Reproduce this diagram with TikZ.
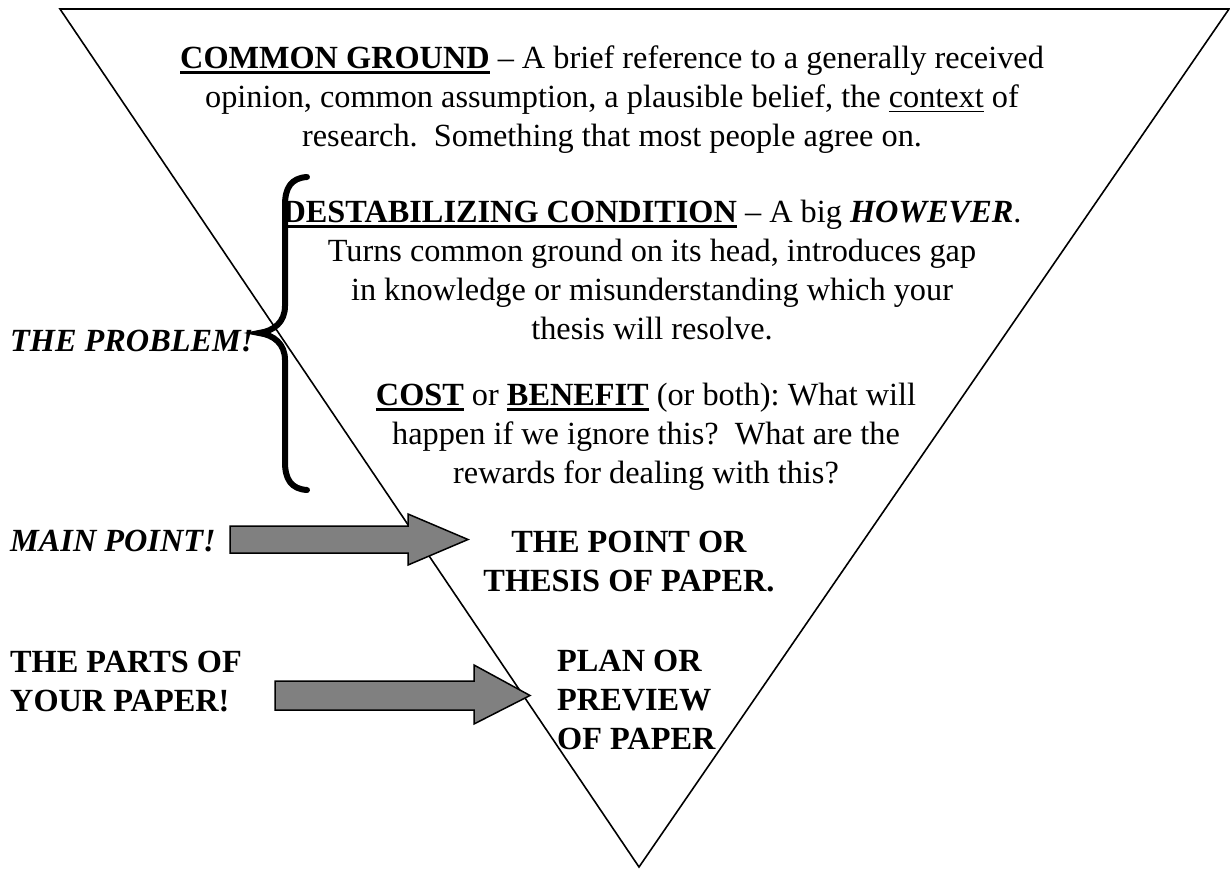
\documentclass[tikz,border=0pt]{standalone}
\usepackage{fontspec}
\setmainfont{Liberation Serif}
\frenchspacing
\newcommand{\ulb}[1]{\setbox0\hbox{#1}\rlap{\rule[-6pt]{\wd0}{3pt}}\box0\relax}
\newcommand{\ult}[1]{\setbox0\hbox{#1}\rlap{\rule[-5pt]{\wd0}{1.5pt}}\box0\relax}
\newcommand{\firststrut}{\rule{0pt}{25pt}}
\begin{document}
\begin{tikzpicture}[x=1pt,y=-1pt,
  txt/.style={inner sep=0pt, font=\fontsize{32.3}{39}\selectfont, align=center},
  btxt/.style={txt, font=\fontsize{32.3}{39}\selectfont\bfseries},
  bitxt/.style={txt, font=\fontsize{32.3}{39}\selectfont\bfseries\itshape},
  tri/.style={draw=black, line width=1.6pt, line join=miter},
  bigarrow/.style={draw=black, line width=1.5pt, fill=gray, line join=miter},
  bracestyle/.style={draw=black, line width=6pt, line cap=round}]
\useasboundingbox (0,0) rectangle (1230,869);
% triangle
\draw[tri] (60,9) -- (1229,9) -- (639,867) -- cycle;
% text blocks
\node[txt, anchor=north] (cg) at (612,43) {\firststrut\ulb{\textbf{COMMON GROUND}} – A brief reference to a generally received\\ opinion, common assumption, a plausible belief, the \ult{context} of\\ research.\ \ Something that most people agree on.};
\node[txt, anchor=north] (dc) at (652,197) {\firststrut\ulb{\textbf{DESTABILIZING CONDITION}} – A big \textbf{\textit{HOWEVER}}.\\ Turns common ground on its head, introduces gap\\ in knowledge or misunderstanding which your\\ thesis will resolve.};
\node[txt, anchor=north] (cb) at (646,380) {\firststrut\ulb{\textbf{COST}} or \ulb{\textbf{BENEFIT}} (or both): What will\\ happen if we ignore this?\ \ What are the\\ rewards for dealing with this?};
\node[btxt, anchor=north] (pt) at (629,527) {\firststrut THE POINT OR\\ THESIS OF PAPER.};
\node[btxt, align=left, anchor=north west] (pl) at (557,646) {\firststrut PLAN OR\\ PREVIEW\\ OF PAPER};
% left labels
\node[bitxt, anchor=base west] (prob) at (10,351) {THE PROBLEM!};
\node[bitxt, anchor=base west] (mp) at (10,551) {MAIN POINT!};
\node[btxt, align=left, anchor=north west] (parts) at (10,647) {\firststrut THE PARTS OF\\ YOUR PAPER!};
% brace
\draw[bracestyle] (307,177) .. controls (291,178) and (285,188) .. (285,205) -- (285,306)
  .. controls (285,322) and (274,331) .. (259,333)
  .. controls (274,335) and (285,344) .. (285,360) -- (285,462)
  .. controls (285,479) and (291,489) .. (307,490);
% block arrows
\draw[bigarrow] (230,526) -- (408,526) -- (408,514) -- (468,539.5) -- (408,565) -- (408,553) -- (230,553) -- cycle;
\draw[bigarrow] (275,681) -- (474,681) -- (474,665) -- (530,695.5) -- (474,724) -- (474,710) -- (275,710) -- cycle;
\end{tikzpicture}
\end{document}
